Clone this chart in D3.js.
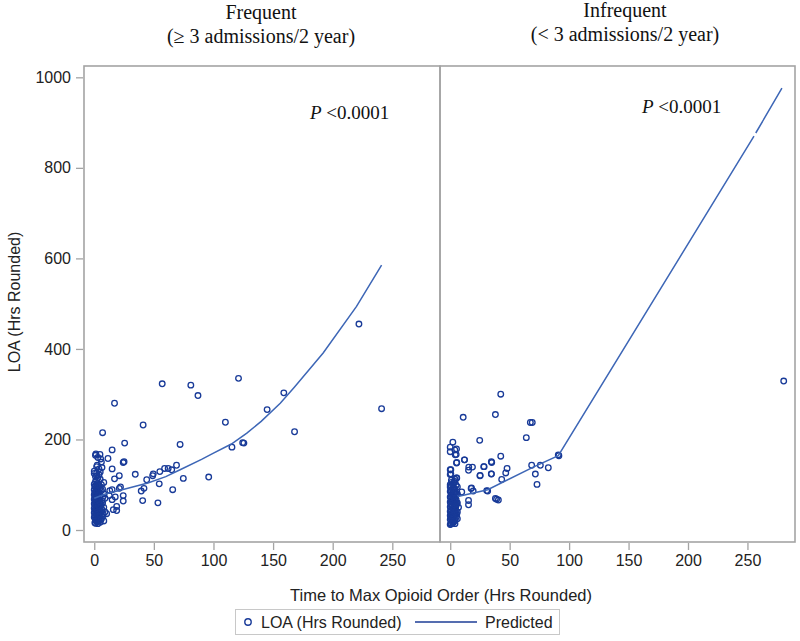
<!DOCTYPE html>
<html>
<head>
<meta charset="utf-8">
<script src="https://cdn.jsdelivr.net/npm/d3@7/dist/d3.min.js"></script>
<style>
  html, body { margin: 0; padding: 0; background: #fff; }
  svg { display: block; }
</style>
</head>
<body>
<svg id="chart" width="800" height="641"></svg>
<script>
// ---------------- DATA ----------------
const panelTitles = [
  ["Frequent", "(\u2265 3 admissions/2 year)"],
  ["Infrequent", "(< 3 admissions/2 year)"]
];
const pTexts = ["<0.0001", "<0.0001"];
const xTicks = [0, 50, 100, 150, 200, 250];
const yTicks = [0, 200, 400, 600, 800, 1000];
const xLabel = "Time to Max Opioid Order (Hrs Rounded)";
const yLabel = "LOA (Hrs Rounded)";
const legendLabels = ["LOA (Hrs Rounded)", "Predicted"];

// Frequent panel observed points [time, LOA]
const freqPoints = [
  [57,323],[81,320],[121,335],[87,297],[17,280],[145,266],[110,238],[41,232],[7,215],
  [72,189],[124.5,193],[125.5,192],[115.5,183],[25.5,192],[15,177],[1.4,168],[4.8,167],
  [5.4,157],[11.5,158],[24.3,149],[25,151],[2.5,143],[6.5,138],[15,135],[69,143],
  [62,136],[65,133],[59,136],[55,129],[49.5,124],[49,120],[21,120],[34.4,123],[2,120],
  [17,113],[44,111],[74.7,114],[96,117],[54.5,102],[22,95],[21,92],[15,89],[13,87],
  [41.7,92],[39.4,86],[65.8,89],[24.3,76],[17.6,73],[40.6,65],[53.4,60],[24.3,64],
  [18.8,52],[16,45],[18.8,43],[10.4,36],[12.6,76],[15,67],
  [159,303],[241,268],[168,217],[222,455],
  // dense cluster near 0
  [1,15],[2,18],[3,20],[1,22],[4,24],[2,26],[0,28],[3,30],[5,32],[1,33],[2,35],[4,37],
  [0,38],[3,40],[6,41],[1,43],[2,45],[5,46],[0,48],[3,50],[4,52],[1,53],[2,55],[6,56],
  [0,58],[3,60],[5,61],[1,63],[2,65],[4,66],[0,68],[3,70],[7,71],[1,73],[2,75],[5,76],
  [0,78],[3,80],[4,82],[1,84],[2,86],[6,87],[0,89],[3,91],[5,93],[1,95],[2,97],[4,99],
  [0,101],[3,103],[8,105],[1,107],[2,110],[5,112],[3,115],[1,118],[4,122],[2,126],
  [0,130],[6,100],[7,90],[8,80],[9,70],[7,60],[8,50],[9,40],[7,30],[6,25],[8,20],
  [5,17],[3,14],[1,165],[3,160],[6,150],[2,140],[4,135],[0,125],[5,128],
  [0.5,16],[2.5,19],[1.5,24],[3.5,27],[0.5,31],[2.5,34],[4.5,36],[1.5,39],[3.5,42],
  [0.5,44],[2.5,47],[4.5,49],[1.5,51],[3.5,54],[0.5,57],[2.5,59],[4.5,62],[1.5,64],
  [3.5,67],[0.5,70],[2.5,72],[4.5,74],[1.5,77],[3.5,79],[0.5,82],[2.5,85],[1.5,88],
  [3.5,92],[0.5,96],[2.5,100],[6.5,45],[6.5,65],[5.5,22],[7.5,35]
];

// Infrequent panel observed points [time, LOA]
const infreqPoints = [
  [42.5,300],[10.9,249],[38,255],[67.4,237.5],[69,237.5],[64,204],[24.8,198],[2.2,194],
  [0,183],[5.3,179],[4.2,166],[90.9,166],[91.4,164],[42.5,163],[12,155],[5.3,148],
  [34.9,149],[28.2,140],[18.7,139],[15.4,132],[68.5,143],[75.8,143],[82.5,137.5],
  [47.8,136],[46.7,126],[25.2,120.5],[34.6,123.6],[71.6,123.6],[43.3,111.7],[0,133],
  [0,122.7],[5.3,114.8],[73,100.7],[17.6,91.8],[19.3,86],[31.5,86],[38,69.8],[40.5,66.2],
  [15.4,65.3],[15.4,55.8],[9.7,84],[3.9,177],[0,173],[5,167],[12,155],[5.5,149],
  [0.5,133],[0.5,124],[15.6,139],[25,120],[28.5,140],[34.6,151],[34.6,124],[5.5,115],
  [17.9,93],[30.7,87],[39,68],[280.5,329],
  // dense cluster near 0
  [0,12],[1,15],[2,17],[3,19],[4,21],[0,23],[1,25],[2,27],[5,28],[3,30],[0,32],[1,34],
  [4,35],[2,37],[3,39],[0,41],[5,42],[1,44],[2,46],[4,47],[3,49],[0,51],[1,53],[5,54],
  [2,56],[4,58],[3,60],[0,62],[1,64],[2,66],[5,67],[4,69],[3,71],[0,73],[1,75],[2,77],
  [5,79],[4,81],[3,83],[0,85],[1,87],[2,89],[4,91],[3,93],[0,95],[1,97],[5,99],[2,101],
  [3,104],[4,107],[1,110],[6,40],[6,60],[6,80],[7,50],[6,95],[3,45],[2,20],[4,14],
  [6,25],[0,100],[1,105],[4,112],
  [0.5,13],[2.5,16],[1.5,20],[3.5,24],[0.5,27],[2.5,31],[4.5,33],[1.5,36],[3.5,40],
  [0.5,43],[2.5,45],[4.5,50],[1.5,52],[3.5,55],[0.5,58],[2.5,61],[4.5,63],[1.5,66],
  [3.5,68],[0.5,71],[2.5,74],[4.5,76],[1.5,79],[3.5,82],[0.5,86],[2.5,90],[5.5,35],[5.5,58]
];

// Predicted lines [time, LOA]; null marks a small break in the line
const freqPred = [
  [0,70],[10,80],[25,90],[45,104],[60,118],[72,133],[90,156],[100,170],[115,190],
  [128,214],[140,240],[156,280],[168,316],[192,391],[220,494],[241,585]
];
const infreqPred = [
  [6.4,74],[31.5,89],[70.7,140],[90.9,164],[255.5,870],null,[257,877],[279,976]
];

// ---------------- LAYOUT ----------------
const svg = d3.select("#chart");
const markerColor = "#183a98";
const lineColor = "#3d66b6";
const frameColor = "#a4a4a4";
const sans = "'Liberation Sans', Arial, sans-serif";
const serif = "'Liberation Serif', 'Times New Roman', serif";

const plotTop = 66, plotBottom = 542;
const panels = [
  { x0: 84, x1: 440, pts: freqPoints, pred: freqPred, tx: 261, ty: 19, pX: 310, pY: 119 },
  { x0: 440, x1: 795, pts: infreqPoints, pred: infreqPred, tx: 625, ty: 17, pX: 642, pY: 113 }
];

const y = d3.scaleLinear().domain([-26.5, 1025]).range([plotBottom, plotTop]);

panels.forEach((p, i) => {
  const x = d3.scaleLinear().domain([-8.6, 290]).range([p.x0, p.x1]);
  const g = svg.append("g");

  // x axis
  const xAxis = d3.axisBottom(x).tickValues(xTicks).tickSize(7).tickPadding(5);
  const ga = g.append("g").attr("transform", `translate(0,${plotBottom + 1})`).call(xAxis);
  ga.select(".domain").remove();
  ga.selectAll(".tick line").attr("stroke", frameColor).attr("stroke-width", 1.3);
  ga.selectAll(".tick text").attr("font-family", sans).attr("font-size", 16).attr("fill", "#222");

  // points
  g.append("g").selectAll("circle").data(p.pts).enter().append("circle")
    .attr("cx", d => x(d[0])).attr("cy", d => y(d[1])).attr("r", 2.8)
    .attr("fill", "none").attr("stroke", markerColor).attr("stroke-width", 1.3);

  // predicted line
  const line = d3.line().defined(d => d !== null).x(d => x(d[0])).y(d => y(d[1]));
  g.append("path").datum(p.pred).attr("d", line)
    .attr("fill", "none").attr("stroke", lineColor).attr("stroke-width", 1.5);

  // frame
  g.append("rect").attr("x", p.x0).attr("y", plotTop).attr("width", p.x1 - p.x0).attr("height", plotBottom - plotTop)
    .attr("fill", "none").attr("stroke", frameColor).attr("stroke-width", 1.6);

  // panel title
  g.append("text").attr("x", p.tx).attr("y", p.ty).attr("text-anchor", "middle")
    .attr("font-family", serif).attr("font-size", 20).attr("fill", "#111").text(panelTitles[i][0]);
  g.append("text").attr("x", p.tx).attr("y", p.ty + 24).attr("text-anchor", "middle")
    .attr("font-family", serif).attr("font-size", 20).attr("fill", "#111").text(panelTitles[i][1]);

  // P value
  const pt = g.append("text").attr("x", p.pX).attr("y", p.pY)
    .attr("font-family", serif).attr("font-size", 19).attr("fill", "#111");
  pt.append("tspan").attr("font-style", "italic").text("P");
  pt.append("tspan").text(" " + pTexts[i]);
});

// y axis (left panel only)
const yAxis = d3.axisLeft(y).tickValues(yTicks).tickFormat(d3.format("d")).tickSize(7).tickPadding(5);
const gy = svg.append("g").attr("transform", `translate(83,0)`).call(yAxis);
gy.select(".domain").remove();
gy.selectAll(".tick line").attr("stroke", frameColor).attr("stroke-width", 1.3);
gy.selectAll(".tick text").attr("font-family", sans).attr("font-size", 16).attr("fill", "#222");

// axis labels
svg.append("text").attr("transform", "translate(20,302) rotate(-90)").attr("text-anchor", "middle")
  .attr("font-family", sans).attr("font-size", 16).attr("fill", "#222").text(yLabel);
svg.append("text").attr("x", 441).attr("y", 601).attr("text-anchor", "middle")
  .attr("font-family", sans).attr("font-size", 16.5).attr("fill", "#222").text(xLabel);

// legend
const lg = svg.append("g");
lg.append("rect").attr("x", 235.5).attr("y", 609.5).attr("width", 324).attr("height", 25)
  .attr("fill", "#fff").attr("stroke", "#c8c8c8").attr("stroke-width", 1);
lg.append("circle").attr("cx", 248).attr("cy", 622).attr("r", 3.2)
  .attr("fill", "none").attr("stroke", markerColor).attr("stroke-width", 1.4);
lg.append("text").attr("x", 261).attr("y", 628).attr("font-family", sans).attr("font-size", 16)
  .attr("fill", "#222").text(legendLabels[0]);
lg.append("line").attr("x1", 415).attr("x2", 477).attr("y1", 622).attr("y2", 622)
  .attr("stroke", "#1c3c96").attr("stroke-width", 1.5);
lg.append("text").attr("x", 485).attr("y", 628).attr("font-family", sans).attr("font-size", 16)
  .attr("fill", "#222").text(legendLabels[1]);
</script>
</body>
</html>
